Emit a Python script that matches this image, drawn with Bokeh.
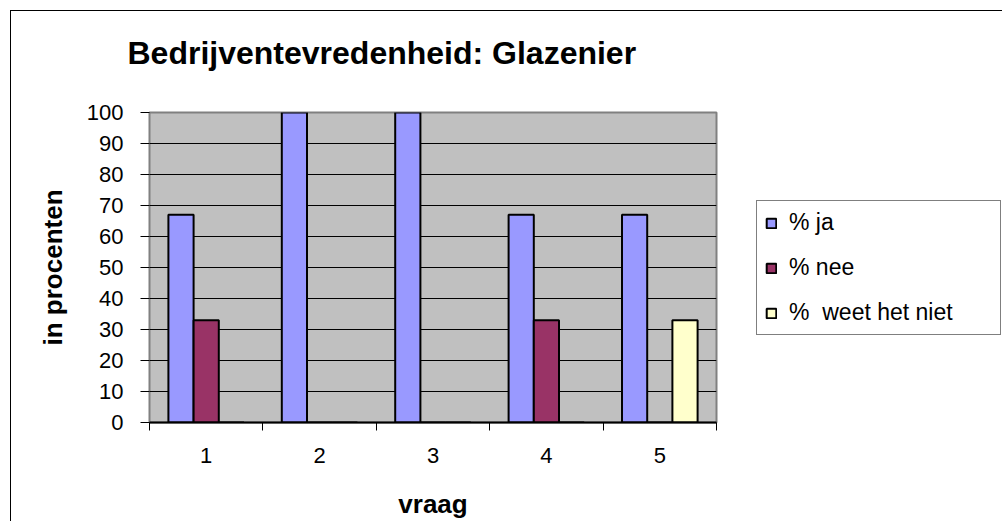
from bokeh.plotting import figure
from bokeh.models import FixedTicker, Legend, LegendItem, Range1d, ColumnDataSource, Title
from bokeh.layouts import row
from bokeh.transform import dodge
from bokeh.embed import file_html
from bokeh.resources import INLINE

# ---- data ----
questions = [1, 2, 3, 4, 5]
question_labels = ["1", "2", "3", "4", "5"]
pct_ja = [67, 100, 100, 67, 67]
pct_nee = [33, 0, 0, 33, 0]
pct_weet = [0, 0, 0, 0, 33]
series_names = ["% ja", "% nee", "%  weet het niet"]
series_colors = ["#9999FF", "#993366", "#FFFFCC"]
y_ticks = list(range(0, 101, 10))

title_text = "Bedrijventevredenheid: Glazenier"
x_title = "vraag"
y_title = "in procenten"

FONT = "Liberation Sans"

src = ColumnDataSource(dict(q=questions, ja=pct_ja, nee=pct_nee, weet=pct_weet))
cols = ["ja", "nee", "weet"]

# ---- main chart ----
W, H = 729, 510
p = figure(width=W, height=H, output_backend="svg", toolbar_location=None,
           title=None,
           x_range=Range1d(0.5, 5.5), y_range=Range1d(0, 100),
           min_border_left=138, min_border_right=24,
           min_border_top=101, min_border_bottom=99)

p.background_fill_color = "#C0C0C0"
p.border_fill_color = "white"
p.outline_line_color = "#808080"
p.outline_line_width = 2

bw = 0.2222
offsets = [-bw, 0.0, bw]
for c, off, col in zip(cols, offsets, series_colors):
    p.vbar(x=dodge("q", off, range=p.x_range), top=c, width=bw, bottom=0,
           source=src, fill_color=col, line_color="black", line_width=2)

# spacer title (closest to the frame), then the real title above it
spacer = Title(text=" ", text_font=FONT, text_font_size="20px", standoff=13)
p.add_layout(spacer, "above")
main_title = Title(text=title_text, text_font=FONT, text_font_size="32px",
                   text_font_style="bold", text_color="black", align="left",
                   offset=-22, standoff=10)
p.add_layout(main_title, "above")

# x axis
xa = p.xaxis[0]
xa.ticker = FixedTicker(ticks=questions, minor_ticks=[0.5, 1.5, 2.5, 3.5, 4.5, 5.5])
xa.major_label_overrides = {q: l for q, l in zip(questions, question_labels)}
xa.major_tick_out = 0
xa.major_tick_in = 0
xa.minor_tick_out = 8
xa.minor_tick_in = 0
xa.minor_tick_line_color = "black"
xa.axis_line_color = "black"
xa.axis_line_width = 2
xa.major_label_standoff = 17
xa.major_label_text_font = FONT
xa.major_label_text_font_size = "22px"
xa.major_label_text_color = "black"
xa.axis_label = x_title
xa.axis_label_text_font = FONT
xa.axis_label_text_font_size = "26px"
xa.axis_label_text_font_style = "bold"
xa.axis_label_text_color = "black"
xa.axis_label_standoff = 23

# y axis
ya = p.yaxis[0]
ya.ticker = FixedTicker(ticks=y_ticks, minor_ticks=[])
ya.axis_line_color = None
ya.major_tick_out = 9
ya.major_tick_in = 0
ya.major_tick_line_color = "black"
ya.minor_tick_out = 0
ya.minor_tick_in = 0
ya.major_label_standoff = 17
ya.major_label_text_font = FONT
ya.major_label_text_font_size = "22px"
ya.major_label_text_color = "black"
ya.axis_label = y_title
ya.axis_label_text_font = FONT
ya.axis_label_text_font_size = "26px"
ya.axis_label_text_font_style = "bold"
ya.axis_label_text_color = "black"
ya.axis_label_standoff = 16

p.xgrid.visible = False
p.ygrid.ticker = FixedTicker(ticks=y_ticks[1:-1])
p.ygrid.grid_line_color = "black"
p.ygrid.grid_line_width = 1

# ---- legend panel (separate canvas to the right of the chart) ----
q = figure(width=262, height=H, output_backend="svg", toolbar_location=None,
           title=None, x_axis_type=None, y_axis_type=None,
           x_range=Range1d(0.5, 5.5), y_range=Range1d(0, 100),
           min_border=0)
q.grid.visible = False
q.outline_line_color = None
q.background_fill_color = "white"
q.border_fill_color = "white"
leg_renderers = []
for c, col in zip(cols, series_colors):
    # only used to draw the legend swatches; the bars themselves stay hidden here
    r = q.vbar(x="q", top=c, width=bw, bottom=0, source=src,
               fill_color=col, line_color="black", line_width=2, visible=False)
    leg_renderers.append(r)

legend = Legend(items=[LegendItem(label=n, renderers=[r]) for n, r in zip(series_names, leg_renderers)],
                location=(16, 87))
legend.border_line_color = "black"
legend.border_line_width = 1
legend.background_fill_color = "white"
legend.background_fill_alpha = 1
legend.padding = 8
legend.spacing = 18
legend.glyph_width = 12
legend.glyph_height = 12
legend.label_height = 12
legend.label_standoff = 12
legend.label_width = 203
legend.margin = 0
legend.label_text_font = FONT
legend.label_text_font_size = "23px"
legend.label_text_color = "black"
legend.label_text_baseline = "middle"
legend.inactive_fill_alpha = 0
q.add_layout(legend, "center")

layout = row(p, q, spacing=0)
layout.styles = {"border-left": "1px solid black", "border-top": "1px solid black",
                 "margin-left": "10px", "margin-top": "10px"}

with open("out.html", "w") as f:
    f.write(file_html(layout, INLINE))
